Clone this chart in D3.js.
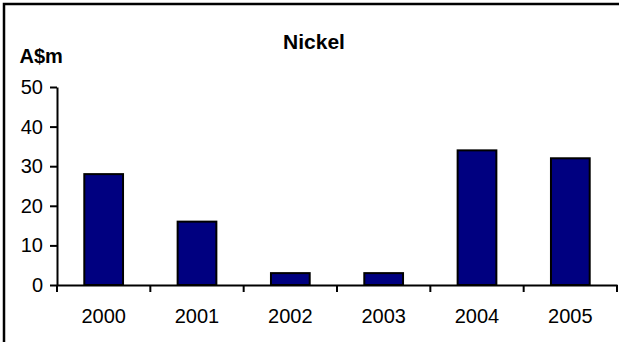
<!DOCTYPE html>
<html>
<head>
<meta charset="utf-8">
<script src="https://cdn.jsdelivr.net/npm/d3@7"></script>
<style>
  body { margin: 0; background: #fff; }
  svg { display: block; font-family: "Liberation Sans", Arial, sans-serif; }
  .axis path, .axis line { stroke: #000; stroke-width: 2; }
  .axis text { font-size: 20px; fill: #000; }
</style>
</head>
<body>
<div id="chart-area"></div>
<script>
var years = ["2000", "2001", "2002", "2003", "2004", "2005"];
var nickel = [28, 16, 3, 3, 34, 32];
var yTicks = [0, 10, 20, 30, 40, 50];

var total_width = 619;
var total_height = 342;

var svg = d3.select('#chart-area').append('svg')
            .attr("width", total_width)
            .attr("height", total_height);

// outer frame (right/bottom edges fall outside the picture)
svg.append("rect")
   .attr("x", 4).attr("y", 4)
   .attr("width", 640).attr("height", 360)
   .attr("fill", "none")
   .attr("stroke", "#000")
   .attr("stroke-width", 2.5);

var x = d3.scaleBand()
          .domain(years)
          .range([57, 617])
          .paddingInner(0.585)
          .paddingOuter(0.2925);

var y = d3.scaleLinear().domain([0, 50]).range([285, 87]);

// y axis
svg.append("g").attr("class", "axis")
   .attr("transform", "translate(57,0)")
   .call(d3.axisLeft(y).tickValues(yTicks).tickSize(7).tickSizeOuter(0).tickPadding(7));

// bars
svg.selectAll("rect.bar")
   .data(years)
   .enter().append("rect")
   .attr("class", "bar")
   .attr("x", (d) => x(d))
   .attr("y", (d, i) => y(nickel[i]))
   .attr("width", x.bandwidth())
   .attr("height", (d, i) => y(0) - y(nickel[i]))
   .attr("fill", "#000080")
   .attr("stroke", "#000")
   .attr("stroke-width", 2);

// x axis: labels centred, ticks on category boundaries
var xAxis = svg.append("g").attr("class", "axis")
   .attr("transform", "translate(0,285)")
   .call(d3.axisBottom(x).tickSize(0).tickSizeOuter(0).tickPadding(24));

var bounds = d3.range(years.length + 1).map((i) => x.range()[0] + i * x.step());
xAxis.selectAll("line.bound")
     .data(bounds)
     .enter().append("line")
     .attr("class", "bound")
     .attr("x1", (d) => d).attr("x2", (d) => d)
     .attr("y1", 0).attr("y2", 7)
     .attr("stroke", "#000")
     .attr("stroke-width", 2);

svg.append("text")
   .attr("x", 314)
   .attr("y", 48.5)
   .attr("text-anchor", "middle")
   .attr("font-size", "21px")
   .attr("font-weight", "bold")
   .text("Nickel");

svg.append("text")
   .attr("x", 19.5)
   .attr("y", 63)
   .attr("font-size", "20px")
   .attr("font-weight", "bold")
   .text("A$m");
</script>
</body>
</html>
